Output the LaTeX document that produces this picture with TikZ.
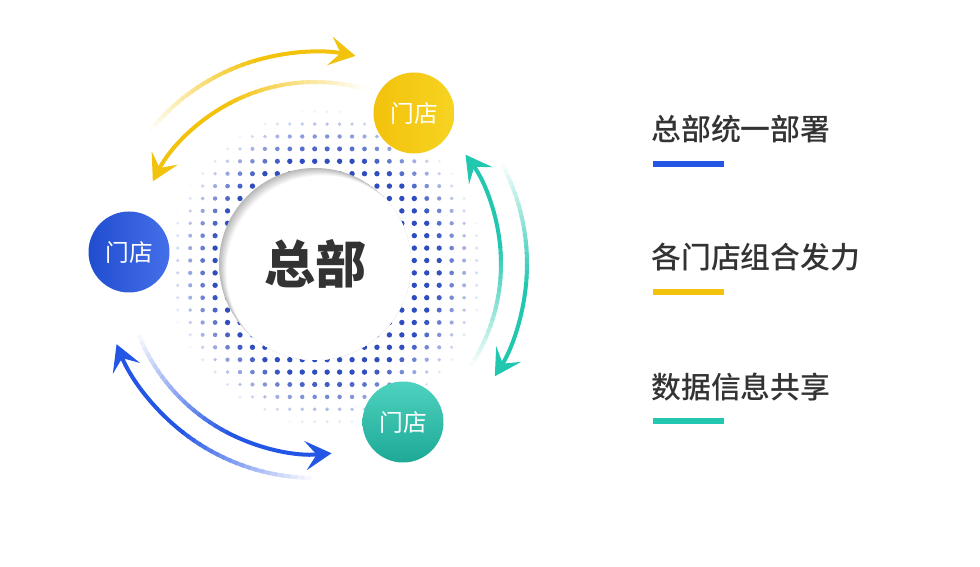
\documentclass[tikz,border=0pt]{standalone}
\usepackage{fontspec}
\setmainfont{Noto Sans CJK SC}
\newfontfamily\capfont{Noto Sans CJK SC Medium}
\usetikzlibrary{arrows.meta, positioning, calc}
\definecolor{hqblue}{HTML}{2456E6}
\definecolor{shopyellow}{HTML}{F3C20C}
\definecolor{shopteal}{HTML}{22C7B0}
\definecolor{dotblue}{HTML}{2F4DBE}
\definecolor{textgray}{HTML}{333333}
\tikzset{
  shop/.style={
    circle, minimum size=1.62cm, inner sep=0pt,
    text=white, font=\fontsize{13.5}{14}\selectfont
  },
  hub/.style={
    circle, minimum size=3.84cm, inner sep=0pt,
    text=textgray, font=\fontsize{29}{30}\selectfont\bfseries
  },
  caption/.style={
    anchor=west, inner sep=0pt,
    text=textgray, font=\fontsize{17}{18}\selectfont\capfont
  },
  bar/.style={
    rectangle, anchor=north west, inner sep=0pt,
    minimum width=1.42cm, minimum height=0.12cm
  },
  flow/.style={line width=0.08cm},
  tip/.style={-{Stealth[length=0.52cm, width=0.58cm, inset=0.22cm]}},
}
% arc that fades in from white: colour, radius, start, end, centre
\newcommand{\fadearc}[5]{%
  \pgfmathsetmacro{\arcmid}{#3+0.55*(#4-#3)}
  \foreach \k in {0,...,19}{
    \pgfmathsetmacro{\arcA}{#3+\k*(\arcmid-#3)/20}
    \pgfmathsetmacro{\arcB}{#3+(\k+1.3)*(\arcmid-#3)/20}
    \pgfmathsetmacro{\arcP}{4+\k*4.8}
    \draw[flow, draw=#1!\arcP!white] ($(#5)+(\arcA:#2)$) arc[start angle=\arcA, end angle=\arcB, radius=#2];
  }
  \draw[flow, tip, draw=#1] ($(#5)+(\arcmid:#2)$) arc[start angle=\arcmid, end angle=#4, radius=#2];
}
\begin{document}
\begin{tikzpicture}[x=0.02cm, y=0.02cm]
  \useasboundingbox (0,0) rectangle (980,567);
  \fill[white] (0,0) rectangle (980,567);
  \coordinate (c) at (315,303);

  % dot field
  \foreach \i in {0,...,26}{
    \foreach \j in {0,...,27}{
      \pgfmathsetmacro{\dotx}{165.3+12.45*\i}
      \pgfmathsetmacro{\doty}{567-(99.3+12.4*\j)}
      \pgfmathsetmacro{\dotd}{veclen(\dotx-326,\doty-299)}
      \pgfmathsetmacro{\dotp}{min(100,max(0,(160-\dotd)*2.1))}
      \ifdim\dotp pt>2pt
        \fill[dotblue!\dotp!white] (\dotx,\doty) circle[radius=1.5+0.012*\dotp];
      \fi
    }
  }

  % hub with soft inner shadow
  \begin{scope}
    \clip (c) circle[radius=96];
    \foreach \k in {0,...,10}{
      \pgfmathsetmacro{\shade}{28-\k*2.8}
      \fill[black!\shade!white] ($(c)+(\k*0.75,-\k*0.75)$) circle[radius=96];
    }
  \end{scope}
  \node (hq) [hub] at (c) {总部};

  % arrows
  \fadearc{shopyellow}{212}{141}{79}{c}
  \fadearc{shopyellow}{182}{74}{153}{c}
  \fadearc{shopteal}{186}{-33}{36}{c}
  \fadearc{shopteal}{212}{28}{-32}{c}
  \fadearc{hqblue}{190}{-158}{-85}{c}
  \fadearc{hqblue}{214}{-91}{-158}{c}

  % shops
  \node (shopY) [shop, left color=shopyellow, right color=shopyellow!80!yellow!90!white] at (414,454) {门店};
  \node (shopB) [shop, left color=hqblue!90!black, right color=hqblue!85!white] at (129,315) {门店};
  \node (shopT) [shop, shading angle=135, top color=shopteal!80!white, bottom color=shopteal!85!black] at (403,145) {门店};

  % captions
  \node (lab1) [caption] at (651,438) {总部统一部署};
  \node (lab2) [caption] at (651,310) {各门店组合发力};
  \node (lab3) [caption] at (651,180) {数据信息共享};
  \node (bar1) [bar, fill=hqblue] at (653,406) {};
  \node (bar2) [bar, fill=shopyellow] at (653,278) {};
  \node (bar3) [bar, fill=shopteal] at (653,149) {};
\end{tikzpicture}
\end{document}
